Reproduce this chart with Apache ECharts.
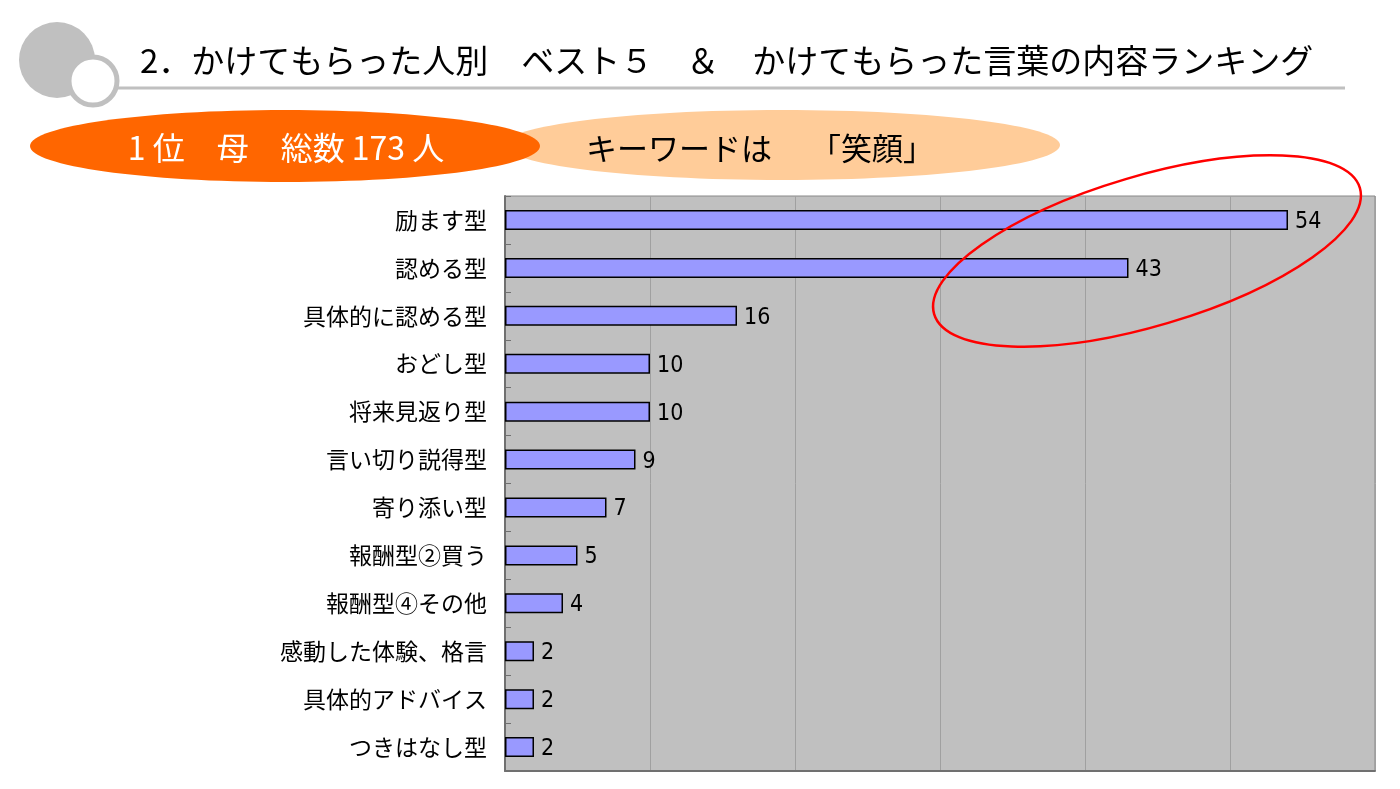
<!DOCTYPE html>
<html><head><meta charset="utf-8">
<script src="https://cdn.jsdelivr.net/npm/echarts@6/dist/echarts.min.js"></script>
<style>html,body{margin:0;padding:0;background:#fff}#c{width:1400px;height:789px}</style>
</head><body><div id="c"></div>
<script>
const categories = ['励ます型','認める型','具体的に認める型','おどし型','将来見返り型','言い切り説得型','寄り添い型','報酬型②買う','報酬型④その他','感動した体験、格言','具体的アドバイス','つきはなし型'];
const counts = [54,43,16,10,10,9,7,5,4,2,2,2];
const titleText = '2．かけてもらった人別　ベスト５　＆　かけてもらった言葉の内容ランキング';
const badgeText = '1 位　母　総数 173 人';
const keywordText = 'キーワードは　 「笑顔」';
const xMax = 60, xStep = 10;

const FONT = '"Noto Sans CJK JP", "Noto Sans", sans-serif';
const NUMFONT = '"DejaVu Sans Condensed", "Noto Sans CJK JP", sans-serif';
const chart = echarts.init(document.getElementById('c'), null, {renderer:'canvas'});
chart.setOption({
  animation:false,
  backgroundColor:'#fff',
  grid:{left:505, top:196, right:25, bottom:18, show:true, backgroundColor:'#C0C0C0', borderColor:'#888', borderWidth:1, containLabel:false},
  xAxis:{type:'value', min:0, max:xMax, interval:xStep,
    axisLabel:{show:false}, axisTick:{show:false},
    axisLine:{show:true, lineStyle:{color:'#707070', width:2}},
    splitLine:{show:true, lineStyle:{color:'#A0A0A0', width:1}}},
  yAxis:{type:'category', data:categories, inverse:true,
    axisLine:{show:true, lineStyle:{color:'#707070', width:2}},
    axisTick:{show:true, inside:true, length:6, lineStyle:{color:'#707070'}},
    axisLabel:{color:'#000', fontSize:23, fontFamily:FONT, margin:18}},
  series:[{type:'bar', data:counts, barWidth:20,
    itemStyle:{color:'#9999FF', borderColor:'#000', borderWidth:1.5},
    label:{show:true, position:'right', distance:7, color:'#000', fontSize:23, fontFamily:NUMFONT, offset:[0,2]}}],
  graphic:[
    {type:'circle', shape:{cx:57, cy:60, r:38}, style:{fill:'#C0C0C0'}, z:1},
    {type:'line', shape:{x1:110, y1:88, x2:1345, y2:88}, style:{stroke:'#C0C0C0', lineWidth:3}, z:1},
    {type:'circle', shape:{cx:93, cy:81, r:24}, style:{fill:'#fff', stroke:'#C0C0C0', lineWidth:5}, z:2},
    {type:'text', left:140, top:44, style:{text:titleText, font:'33px '+FONT, fill:'#000'}, z:3},
    {type:'ellipse', shape:{cx:782, cy:145, rx:278, ry:35}, style:{fill:'#FFCC99'}, z:1},
    {type:'ellipse', shape:{cx:285, cy:146, rx:255, ry:36}, style:{fill:'#FF6600'}, z:2},
    {type:'text', x:286, y:148, style:{text:badgeText, font:'32px '+FONT, fill:'#fff', align:'center', verticalAlign:'middle'}, z:3},
    {type:'text', x:760, y:148, style:{text:keywordText, font:'31px '+FONT, fill:'#000', align:'center', verticalAlign:'middle'}, z:3},
    {type:'ellipse', x:1147, y:251, originX:0, originY:0, rotation:16.5*Math.PI/180, shape:{cx:0, cy:0, rx:222, ry:75}, style:{fill:'none', stroke:'#FF0000', lineWidth:2.5}, z:100}
  ]
});
</script></body></html>
